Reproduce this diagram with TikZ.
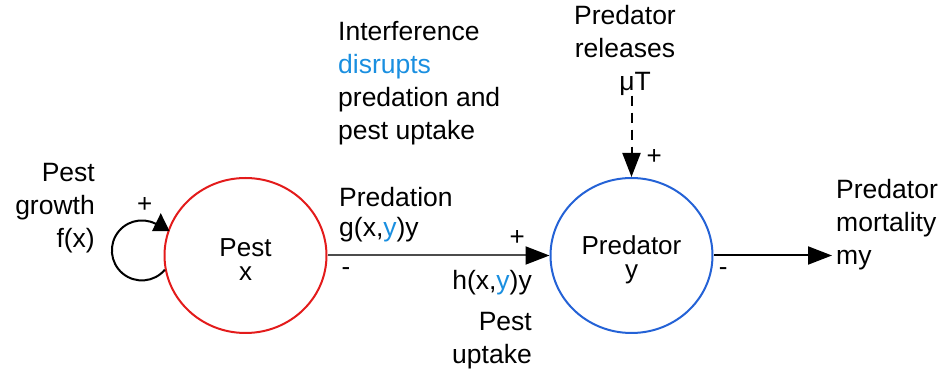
\documentclass[tikz,border=0pt]{standalone}
\usepackage{fontspec}
\setmainfont{Liberation Sans}
\usetikzlibrary{arrows.meta,positioning,shapes.geometric}
\definecolor{pestcolor}{HTML}{E31B1B}
\definecolor{predcolor}{HTML}{2462D6}
\definecolor{textblue}{HTML}{1A8FE0}
\newcommand{\bluey}{\textcolor{textblue}{y}}
\newcommand{\toppad}{\rule{0pt}{26.5pt}}
\tikzset{
    species/.style={
        shape=ellipse,
        line width=2pt,
        align=center,
        minimum width=162pt,
        minimum height=155pt,
        inner sep=0pt,
        font=\fontsize{26}{24}\selectfont
    },
    pestcircle/.style={
        species,
        draw=pestcolor
    },
    predcircle/.style={
        species,
        draw=predcolor
    },
    note/.style={
        inner sep=0pt,
        font=\fontsize{26.5}{33}\selectfont
    },
    sign/.style={
        inner sep=0pt,
        font=\fontsize{26}{26}\selectfont
    },
    flow/.style={
        line width=2pt,
        -{Triangle[length=24pt, width=18pt, color=black]}
    }
}

\begin{document}
\begin{tikzpicture}[x=1pt, y=1pt]
    \useasboundingbox (0,0) rectangle (946,375);

    \node[pestcircle] (pest) at (245.5,119.5) {\toppad Pest\\x};
    \node[predcircle, right=222pt of pest] (predator) {\toppad Predator\\y};

    \node[note, align=right, anchor=north east] (growth) at (95,212) {Pest\\growth\\f(x)};
    \node[note, align=left, anchor=north west] (interference) at (338,354)
        {Interference\\\textcolor{textblue}{disrupts}\\predation and\\pest uptake};
    \node[note, align=left, anchor=north west, font=\fontsize{26.5}{30}\selectfont] (predation) at (339,188)
        {Predation\\g(x,\bluey)y};
    \node[note, anchor=base east] (conversion) at (532,85) {h(x,\bluey)y};
    \node[note, align=right, anchor=north east] (uptake) at (532,63) {Pest\\uptake};
    \node[note, align=center, anchor=north] (release) at (625,370) {Predator\\releases\\\hspace*{20pt}μT};
    \node[note, align=left, anchor=north west] (mortality) at (836,196) {Predator\\mortality\\my};

    \begin{scope} % growth loop
    	\draw[flow, -{Triangle[length=18pt, width=17pt]}]
    	(pest.190)
    	arc[start angle=-40, end angle=-309, radius=30]
    	-- ++(0,14) node[sign, pos=1, xshift=-16pt, yshift=8pt] {+};
    \end{scope}
    \begin{scope} % flows
    	\draw[flow, draw=black!70]
    	(pest)
    	-- node[sign, pos=0.083, below=11pt] {-}
    	node[sign, pos=0.854, above=9pt] {+}
    	(predator);

    	\draw[flow, dash pattern=on 10pt off 7pt]
    	(release.south -| predator.north)
    	-- node[sign, pos=0.75, right=14pt] {+}
    	(predator.north);

    	\draw[flow, shorten >=4pt]
    	(predator)
    	-- node[sign, pos=0.08, below=11pt] {-}
    	(predator -| mortality.west);
    \end{scope}
\end{tikzpicture}
\end{document}
